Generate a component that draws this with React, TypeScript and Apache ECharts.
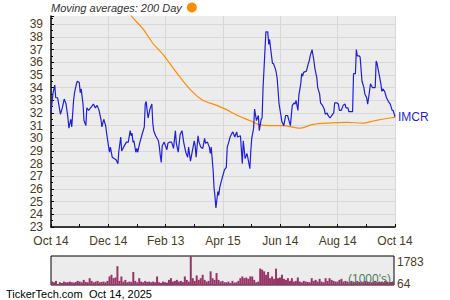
import { useEffect, useRef } from 'react';
import * as echarts from 'echarts';

const xTickLabels = ['Oct 14', 'Dec 14', 'Feb 13', 'Apr 15', 'Jun 14', 'Aug 14', 'Oct 14'];
const SPAN_DAYS = 365;

// days since Oct 14, 2024
const priceDays = [
  0, 2, 4, 5, 7, 10, 12, 14, 16, 18,
  19, 21, 22, 24, 25, 27, 28, 30, 31, 32,
  34, 35, 37, 38, 40, 42, 45, 47, 49, 51,
  53, 54, 56, 58, 59, 62, 63, 64, 65, 67,
  69, 71, 72, 74, 75, 77, 80, 82, 84, 85,
  86, 87, 88, 90, 91, 92, 94, 97, 99, 100,
  101, 102, 103, 105, 107, 108, 109, 111, 114, 115,
  116, 117, 118, 120, 121, 123, 124, 126, 128, 130,
  132, 133, 135, 137, 139, 141, 143, 145, 146, 148,
  150, 152, 153, 154, 156, 157, 159, 161, 163, 164,
  166, 168, 169, 170, 172, 173, 174, 175, 177, 178,
  179, 181, 184, 186, 187, 189, 190, 192, 193, 195,
  197, 198, 201, 203, 204, 206, 208, 211, 212, 213,
  215, 216, 218, 220, 221, 223, 224, 225, 227, 228,
  230, 231, 232, 233, 235, 236, 238, 239, 240, 242,
  244, 245, 247, 249, 251, 254, 256, 258, 259, 260,
  262, 263, 265, 266, 267, 268, 271, 273, 274, 275,
  277, 279, 280, 282, 283, 285, 286, 288, 290, 291,
  293, 294, 296, 298, 300, 301, 303, 305, 306, 308,
  310, 312, 313, 315, 316, 318, 320, 321, 323, 324,
  325, 327, 328, 330, 332, 333, 335, 336, 337, 339,
  341, 344, 345, 346, 348, 350, 351, 352, 354, 356,
  358, 360, 362, 363, 365,
];

const prices = [
  32.0, 33.5, 34.2, 33.2, 33.2, 31.9, 32.4, 33.1, 32.7, 31.6,
  30.8, 31.5, 30.9, 33.0, 33.6, 34.3, 34.5, 34.4, 33.6, 33.9,
  32.7, 31.4, 31.0, 32.4, 32.2, 32.4, 32.7, 32.4, 32.6, 32.2,
  31.5, 30.9, 31.5, 31.0, 30.4, 28.9, 29.3, 28.9, 28.5, 28.4,
  28.3, 28.0, 29.0, 30.1, 29.0, 29.3, 29.7, 29.7, 30.6, 30.2,
  30.4, 29.7, 29.8, 28.9, 29.2, 28.9, 29.6, 30.4, 30.9, 32.7,
  32.9, 32.2, 31.6, 32.3, 32.7, 31.2, 30.6, 30.2, 29.8, 29.3,
  28.6, 28.1, 29.4, 29.7, 29.5, 29.1, 29.6, 29.7, 29.7, 29.2,
  30.6, 29.6, 28.9, 30.3, 30.6, 29.6, 28.9, 28.5, 29.3, 28.2,
  29.0, 29.8, 29.4, 28.5, 30.2, 29.7, 29.3, 29.2, 30.0, 29.6,
  29.7, 29.3, 28.8, 29.3, 27.5, 26.1, 25.4, 24.5, 25.8, 25.5,
  26.1, 26.7, 27.5, 27.7, 29.3, 29.8, 30.1, 30.4, 30.5, 30.1,
  30.5, 30.1, 30.2, 28.0, 29.8, 28.4, 28.8, 27.6, 29.0, 30.0,
  30.8, 32.3, 31.4, 31.8, 30.6, 31.5, 31.6, 34.0, 36.9, 38.4,
  38.4, 37.4, 37.8, 37.1, 35.9, 35.9, 35.5, 35.2, 34.7, 32.7,
  31.8, 31.3, 31.0, 31.8, 31.8, 31.0, 32.6, 32.8, 32.7, 33.0,
  32.2, 33.4, 34.3, 35.1, 34.9, 35.2, 35.3, 35.9, 36.1, 36.5,
  37.0, 36.1, 35.5, 34.8, 34.0, 33.5, 32.8, 32.6, 32.3, 31.9,
  32.0, 31.8, 31.6, 31.8, 32.0, 32.8, 32.8, 32.7, 32.2, 32.2,
  32.6, 32.7, 32.4, 32.4, 32.1, 32.1, 32.1, 35.1, 35.1, 37.0,
  36.5, 36.5, 36.4, 34.5, 34.0, 33.5, 33.2, 32.7, 33.2, 34.3,
  34.0, 34.0, 36.1, 35.9, 35.1, 34.3, 33.7, 33.9, 33.7, 33.2,
  32.9, 32.7, 32.2, 32.2, 31.7,
];

const maDays = [80, 87, 98, 108, 119, 134, 147, 161, 176, 185, 198, 211, 220, 232, 246, 264, 278, 293, 315, 330, 344, 360, 365];
const maValues = [40.2, 39.5, 38.6, 37.5, 36.6, 35.1, 33.9, 33.0, 32.6, 32.3, 31.8, 31.4, 31.1, 31.0, 31.0, 30.8, 31.1, 31.2, 31.25, 31.2, 31.4, 31.6, 31.65];

// volume in thousands
const volumes = [
  210, 168, 252, 64, 168, 126, 210, 168, 168, 210, 168, 147, 189, 252, 210, 168,
  315, 189, 168, 420, 252, 168, 210, 252, 168, 189, 210, 168, 252, 525, 630, 420, 462,
  1155, 252, 525, 210, 315, 168, 210, 189, 798, 252, 168, 420, 210, 168, 252, 189, 210,
  168, 210, 168, 525, 168, 126, 210, 168, 147, 315, 420, 210, 252, 315, 210, 252, 189,
  525, 315, 210, 1783, 420, 252, 588, 315, 420, 630, 315, 210, 252, 840, 420, 315, 735,
  315, 210, 252, 168, 168, 210, 126, 252, 147, 168, 252, 420, 525, 420, 462, 378, 525,
  525, 315, 168, 210, 1008, 945, 840, 630, 798, 420, 525, 378, 1008, 420, 462, 630, 378,
  315, 420, 252, 420, 210, 252, 462, 210, 168, 252, 210, 189, 168, 420, 252, 315, 210,
  378, 210, 168, 420, 252, 420, 315, 252, 210, 210, 315, 378, 210, 252, 210, 168, 252,
  210, 168, 252, 189, 210, 168, 252, 210, 189, 168, 210, 252, 168, 210, 189, 168, 252, 210, 168, 189, 210,
];
const volumeLabelHigh = 1783;
const volumeLabelLow = 64;

const ticker = 'IMCR';
const legendText = 'Moving averages: 200 Day';
const footerSite = 'TickerTech.com';
const footerDate = 'Oct 14, 2025';
const volumeUnit = "(1000's)";

const FONT = '"Liberation Sans", Arial, sans-serif';
const LABEL_COLOR = '#4a3b1c';
const GRID_BG = '#ececec';
const GRID_LINE = '#d8d8d8';
const BLUE = '#1f1fdd';
const ORANGE = '#ff8c00';

export default function App() {
  const ref = useRef<HTMLDivElement>(null);

  useEffect(() => {
    if (!ref.current) return;
    const chart = echarts.init(ref.current, null, { renderer: 'svg' });
    const toX = (d: number) => (d * (xTickLabels.length - 1)) / SPAN_DAYS;

    chart.setOption({
      animation: false,
      backgroundColor: '#fff',
      textStyle: { fontFamily: FONT },
      legend: {
        data: ['MA200'],
        left: 51,
        top: 2,
        padding: 0,
        align: 'right',
        icon: 'circle',
        itemWidth: 10,
        itemHeight: 10,
        selectedMode: false,
        formatter: () => legendText,
        textStyle: { fontStyle: 'italic', fontSize: 11, color: '#333', fontFamily: FONT },
      },
      grid: [
        { left: 51, top: 16, width: 344, height: 211, show: true, backgroundColor: GRID_BG, borderWidth: 0 },
        { left: 51, top: 256, width: 343, height: 29, show: true, backgroundColor: GRID_BG, borderColor: '#000', borderWidth: 1 },
      ],
      xAxis: [
        {
          type: 'value',
          gridIndex: 0,
          min: 0,
          max: xTickLabels.length - 1,
          interval: 1,
          axisLine: { show: true, lineStyle: { color: '#000', width: 1.5 } },
          axisTick: { show: true, inside: true, length: 3, lineStyle: { color: '#000' } },
          minorTick: { show: true, splitNumber: 2, length: 3, lineStyle: { color: '#000' } },
          splitLine: { show: true, lineStyle: { color: GRID_LINE, width: 1 } },
          axisLabel: {
            formatter: (v: number) => xTickLabels[Math.round(v)] ?? '',
            color: LABEL_COLOR,
            fontSize: 12,
            margin: 8,
            fontFamily: FONT,
          },
        },
        {
          type: 'category',
          gridIndex: 1,
          data: volumes.map((_, i) => i),
          show: false,
        },
      ],
      yAxis: [
        {
          type: 'value',
          gridIndex: 0,
          min: 23,
          max: 39.65,
          interval: 1,
          axisLine: { show: true, lineStyle: { color: '#000', width: 1.5 } },
          axisTick: { show: true, inside: true, length: 3, lineStyle: { color: '#000' } },
          minorTick: { show: true, splitNumber: 2, length: 2, lineStyle: { color: '#000' } },
          splitLine: { show: true, showMaxLine: false, lineStyle: { color: GRID_LINE, width: 1 } },
          axisLabel: {
            showMaxLabel: false,
            formatter: (v: number) => (Number.isInteger(v) ? String(v) : ''),
            color: LABEL_COLOR,
            fontSize: 12,
            margin: 8,
            fontFamily: FONT,
          },
        },
        {
          type: 'value',
          gridIndex: 1,
          min: 0,
          max: volumeLabelHigh,
          position: 'right',
          axisLine: { show: false },
          axisTick: { show: false },
          splitLine: { show: false },
          axisLabel: {
            customValues: [volumeLabelHigh],
            formatter: (v: number) => String(Math.round(v)),
            verticalAlign: 'top',
            margin: 3,
            color: LABEL_COLOR,
            fontSize: 12,
            fontFamily: FONT,
          },
        },
        {
          type: 'value',
          gridIndex: 1,
          min: 0,
          max: volumeLabelHigh,
          position: 'right',
          axisLine: { show: false },
          axisTick: { show: false },
          splitLine: { show: false },
          axisLabel: {
            customValues: [volumeLabelLow],
            formatter: (v: number) => String(Math.round(v)),
            verticalAlign: 'middle',
            padding: [0, 0, 5, 0],
            margin: 3,
            color: LABEL_COLOR,
            fontSize: 12,
            fontFamily: FONT,
          },
        },
      ],
      series: [
        {
          name: 'MA200',
          type: 'line',
          xAxisIndex: 0,
          yAxisIndex: 0,
          data: maDays.map((d, i) => [toX(d), maValues[i]]),
          smooth: 0.3,
          showSymbol: false,
          color: ORANGE,
          lineStyle: { color: ORANGE, width: 1.2 },
          z: 2,
        },
        {
          name: ticker,
          type: 'line',
          xAxisIndex: 0,
          yAxisIndex: 0,
          data: priceDays.map((d, i) => [toX(d), prices[i]]),
          showSymbol: false,
          color: BLUE,
          lineStyle: { color: BLUE, width: 1.2 },
          endLabel: {
            show: true,
            formatter: () => ticker,
            color: BLUE,
            fontSize: 12,
            distance: 3,
            fontFamily: FONT,
          },
          z: 3,
        },
        {
          name: 'Volume',
          type: 'bar',
          xAxisIndex: 1,
          yAxisIndex: 1,
          data: volumes,
          barCategoryGap: '0%',
          itemStyle: { color: '#993366' },
        },
      ],
      graphic: [
        {
          type: 'text',
          left: 348,
          top: 273,
          z: 100,
          style: { text: volumeUnit, fill: '#4a7c59', font: `12px ${FONT}` },
        },
        {
          type: 'text',
          left: 6,
          top: 288,
          style: { text: footerSite, fill: '#000', font: `11px ${FONT}` },
        },
        {
          type: 'text',
          left: 89,
          top: 288,
          style: { text: footerDate, fill: '#000', font: `11px ${FONT}` },
        },
      ],
    });

    return () => chart.dispose();
  }, []);

  return (
    <div
      ref={ref}
      style={{ position: 'fixed', left: 0, top: 0, width: 450, height: 300, background: '#fff' }}
    />
  );
}
